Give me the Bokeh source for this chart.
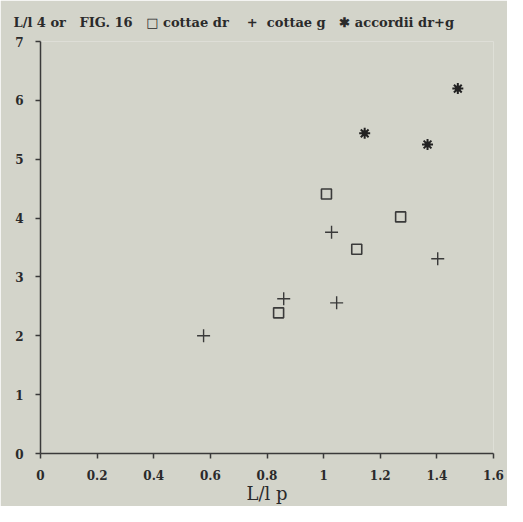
from bokeh.plotting import figure
from bokeh.models import Range1d, FixedTicker
from bokeh.embed import file_html
from bokeh.resources import INLINE

# data
dr_x = [1.01, 1.272, 1.117, 0.841]
dr_y = [4.41, 4.02, 3.47, 2.39]
g_x = [0.576, 0.859, 1.028, 1.046, 1.403]
g_y = [2.00, 2.63, 3.76, 2.56, 3.31]
acc_x = [1.474, 1.145, 1.367]
acc_y = [6.20, 5.44, 5.25]

x_ticks = [0, 0.2, 0.4, 0.6, 0.8, 1.0, 1.2, 1.4, 1.6]
x_tick_labels = ["0", "0.2", "0.4", "0.6", "0.8", "1", "1.2", "1.4", "1.6"]
y_ticks = [0, 1, 2, 3, 4, 5, 6, 7]

NB = "\u00a0"
title_text = ("L/l 4 or" + NB * 3 + "FIG. 16" + NB * 3 + "\u25a1" + NB + "cottae dr" + NB * 4 +
              "+" + NB * 2 + "cottae g" + NB * 3 + "\u2731" + NB + "accordii dr+g")

BG = "#d3d4ca"
INK = "#3a3a3a"
FONT = "DejaVu Serif"

p = figure(width=507, height=506, output_backend="svg", toolbar_location=None,
           x_range=Range1d(0, 1.6), y_range=Range1d(0, 7),
           min_border_left=40, min_border_right=14, min_border_top=41, min_border_bottom=52)
p.background_fill_color = BG
p.border_fill_color = BG
p.outline_line_color = None
p.grid.visible = False

p.title.text = title_text
p.title.text_font = FONT
p.title.text_font_style = "bold"
p.title.text_font_size = "13px"
p.title.text_color = "#2a2a2a"
p.title.align = "left"
p.title.offset = -27
p.title.standoff = 24

for ax in (p.xaxis[0], p.yaxis[0]):
    ax.axis_line_color = INK
    ax.axis_line_width = 1.5
    ax.major_tick_line_color = INK
    ax.major_tick_line_width = 1.5
    ax.major_tick_out = 5
    ax.major_tick_in = 0
    ax.minor_tick_line_color = None
    ax.major_label_text_font = FONT
    ax.major_label_text_font_style = "bold"
    ax.major_label_text_font_size = "12px"
    ax.major_label_text_color = "#2a2a2a"

p.xaxis.ticker = FixedTicker(ticks=x_ticks)
p.xaxis.major_label_overrides = {t: l for t, l in zip(x_ticks, x_tick_labels)}
p.xaxis.major_label_standoff = 11
p.yaxis.ticker = FixedTicker(ticks=y_ticks)
p.yaxis.major_label_standoff = 12
p.xaxis.axis_label = "L/l p"
p.xaxis.axis_label_text_font = FONT
p.xaxis.axis_label_text_font_style = "normal"
p.xaxis.axis_label_text_font_size = "18px"
p.xaxis.axis_label_text_color = "#2a2a2a"
p.xaxis.axis_label_standoff = 0

p.scatter(dr_x, dr_y, marker="square", size=10, fill_color=None,
          line_color=INK, line_width=1.6)
p.scatter(g_x, g_y, marker="cross", size=13, line_color=INK, line_width=1.4)
p.scatter(acc_x, acc_y, marker="asterisk", size=11, line_color="#222222", line_width=2)
p.scatter(acc_x, acc_y, marker="circle", size=6, fill_color="#222222", line_color=None)

open("out.html", "w").write(file_html(p, INLINE))
